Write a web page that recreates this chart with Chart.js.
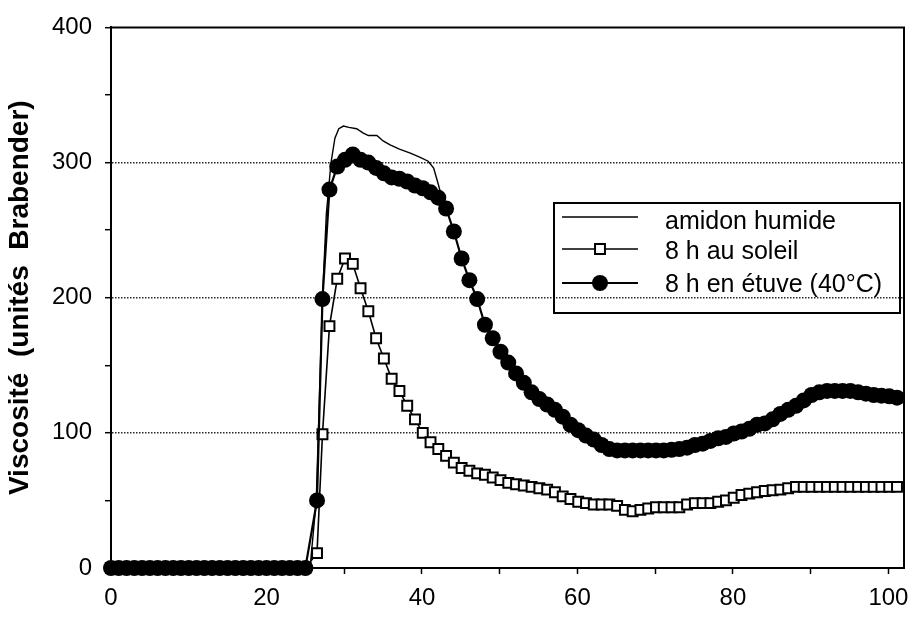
<!DOCTYPE html>
<html>
<head>
<meta charset="utf-8">
<script src="https://cdn.jsdelivr.net/npm/chart.js@4.4.1/dist/chart.umd.min.js"></script>
<style>
  html, body { margin: 0; padding: 0; background: #fff; }
  #wrap { width: 920px; height: 617px; position: relative; }
</style>
</head>
<body>
<div id="wrap"><canvas id="c" width="920" height="617"></canvas></div>
<script>
// ---- Data ----
const timeMin = [
  0, 1, 2, 3, 4, 5, 6, 7, 8, 9, 10, 11, 12, 13, 14, 15, 16, 17, 18, 19, 20, 21, 22, 23, 24, 25,
  26.5, 27.2,
  28.1, 29.1, 30.1, 31.1, 32.1, 33.1, 34.1, 35.1, 36.1, 37.1, 38.1, 39.1, 40.1, 41.1, 42.1, 43.1,
  44.1, 45.1, 46.1, 47.1, 48.1, 49.1, 50.1, 51.1, 52.1, 53.1, 54.1, 55.1, 56.1, 57.1, 58.1, 59.1,
  60.1, 61.1, 62.1, 63.1, 64.1, 65.1, 66.1, 67.1, 68.1, 69.1, 70.1, 71.1, 72.1, 73.1, 74.1, 75.1,
  76.1, 77.1, 78.1, 79.1, 80.1, 81.1, 82.1, 83.1, 84.1, 85.1, 86.1, 87.1, 88.1, 89.1, 90.1, 91.1,
  92.1, 93.1, 94.1, 95.1, 96.1, 97.1, 98.1, 99.1, 100.1, 101.1
];

const etuve40C = [
  0, 0, 0, 0, 0, 0, 0, 0, 0, 0, 0, 0, 0, 0, 0, 0, 0, 0, 0, 0, 0, 0, 0, 0, 0, 0,
  50, 199,
  280, 297, 302, 306, 302, 300, 296, 292, 289, 288, 286, 283, 281, 278, 274, 266,
  249, 229, 213, 199, 180, 170, 160, 152, 144, 137, 130, 125, 121, 117, 112, 106,
  102, 98, 95, 91, 88, 87, 87, 87, 87, 87, 87, 87, 87.5, 88, 89, 91,
  92, 94, 96, 97, 99.5, 101, 103, 106, 107, 110, 114, 117, 120, 124, 128, 130,
  131, 131, 131, 131, 130, 129, 128, 127.5, 127, 126
];

const soleil8h = [
  0, 0, 0, 0, 0, 0, 0, 0, 0, 0, 0, 0, 0, 0, 0, 0, 0, 0, 0, 0, 0, 0, 0, 0, 0, 0,
  11, 99,
  179, 214, 229, 225, 207, 190, 170, 155, 140, 131, 120, 110, 100, 93, 88, 83,
  78, 74, 72, 70, 69, 67, 65, 63, 62, 61, 60, 59, 58, 56, 53, 51,
  49, 48, 47, 47, 47, 46, 43, 42, 43, 44, 45, 45, 45, 45, 47, 48,
  48, 48, 49, 50, 52, 54, 55, 56, 57, 57.5, 58, 59, 60, 60, 60, 60,
  60, 60, 60, 60, 60, 60, 60, 60, 60, 60
];

const amidonTime = [0, 25.6, 26.4, 27.2, 27.7, 28.3, 28.8, 29.3, 29.9, 30.6, 31.6, 32.4, 33.1, 34.2, 35.0, 35.9, 37.1, 38.5, 39.7, 40.8, 41.5, 42.0, 42.7, 43.1];
const amidonHumide = [0, 0, 50, 200, 262, 300, 318, 325, 327, 326, 325, 322, 320, 320, 316, 313, 310, 307, 304, 301, 296, 286, 271, 266];

const seriesLabels = ['amidon humide', '8 h au soleil', '8 h en étuve (40°C)'];
const yAxisTitle = 'Viscosité  (unités  Brabender)';
const yGridValues = [100, 200, 300];

// ---- Build ----
const toPoints = (xs, ys) => xs.map((x, i) => ({ x: x, y: ys[i] }));
const FONT = '"Liberation Sans", Arial, Helvetica, sans-serif';

const frameAndLegend = {
  id: 'frameAndLegend',
  afterDatasetsDraw(chart) {
    const ctx = chart.ctx;
    const a = chart.chartArea;
    ctx.save();
    // top and right frame lines
    ctx.strokeStyle = '#000';
    ctx.lineWidth = 2;
    ctx.beginPath();
    ctx.moveTo(a.left, a.top);
    ctx.lineTo(a.right, a.top);
    ctx.lineTo(a.right, a.bottom);
    ctx.stroke();

    // legend box
    const bx = 554, by = 203, bw = 346, bh = 110;
    ctx.lineWidth = 2;
    ctx.strokeRect(bx, by, bw, bh);
    const rowsLine = [217, 249, 283];
    const rowsText = [222, 252, 285];
    [0, 1, 2].forEach((i) => {
      const ds = chart.data.datasets[i];
      const ly = rowsLine[i];
      ctx.strokeStyle = '#000';
      ctx.lineWidth = Math.max(ds.borderWidth, 1.6);
      ctx.beginPath();
      ctx.moveTo(562, ly);
      ctx.lineTo(638, ly);
      ctx.stroke();
      if (ds.pointRadius > 0) {
        ctx.fillStyle = ds.pointBackgroundColor;
        ctx.strokeStyle = ds.pointBorderColor;
        ctx.lineWidth = ds.pointBorderWidth;
        ctx.beginPath();
        if (ds.pointStyle === 'rect') {
          const s = ds.pointRadius * Math.SQRT1_2;
          ctx.rect(600 - s, ly - s, 2 * s, 2 * s);
        } else {
          ctx.arc(600, ly, ds.pointRadius, 0, Math.PI * 2);
        }
        ctx.fill();
        if (ds.pointBorderWidth > 0) ctx.stroke();
      }
      ctx.fillStyle = '#000';
      ctx.font = '25px ' + FONT;
      ctx.textAlign = 'left';
      ctx.textBaseline = 'middle';
      ctx.fillText(ds.label, 665, rowsText[i]);
    });
    ctx.restore();
  }
};

new Chart(document.getElementById('c'), {
  type: 'line',
  data: {
    datasets: [
      {
        label: seriesLabels[0],
        data: toPoints(amidonTime, amidonHumide),
        borderColor: '#000',
        borderWidth: 1.4,
        pointRadius: 0,
        tension: 0,
        order: 3,
        clip: false
      },
      {
        label: seriesLabels[1],
        data: toPoints(timeMin, soleil8h),
        borderColor: '#000',
        borderWidth: 1.6,
        pointStyle: 'rect',
        pointRadius: 7,
        pointBackgroundColor: '#fff',
        pointBorderColor: '#000',
        pointBorderWidth: 2,
        tension: 0,
        order: 2,
        clip: false
      },
      {
        label: seriesLabels[2],
        data: toPoints(timeMin, etuve40C),
        borderColor: '#000',
        borderWidth: 2.2,
        pointStyle: 'circle',
        pointRadius: 8,
        pointBackgroundColor: '#000',
        pointBorderColor: '#000',
        pointBorderWidth: 0,
        tension: 0,
        order: 1,
        clip: false
      }
    ]
  },
  options: {
    responsive: false,
    animation: false,
    events: [],
    layout: { padding: { top: 15, right: 16, left: 0, bottom: 0 } },
    plugins: { legend: { display: false }, tooltip: { enabled: false } },
    scales: {
      x: {
        type: 'linear',
        min: 0,
        max: 102,
        afterFit: (s) => { s.height = 49; },
        ticks: {
          stepSize: 10,
          includeBounds: false,
          autoSkip: false,
          maxRotation: 0,
          padding: 10,
          color: '#000',
          font: { family: FONT, size: 24 },
          callback: (v) => (v % 20 === 0 ? String(v) : '')
        },
        grid: { drawOnChartArea: false, tickLength: 6, tickWidth: 1.5, tickColor: '#000' },
        border: { display: true, color: '#000', width: 2 }
      },
      y: {
        type: 'linear',
        min: 0,
        max: 400,
        afterFit: (s) => { s.width = 111; },
        ticks: {
          stepSize: 50,
          autoSkip: false,
          padding: 13,
          color: '#000',
          font: { family: FONT, size: 24 },
          callback: (v) => (v % 100 === 0 ? String(v) : '')
        },
        grid: {
          color: (c) => (c.tick && yGridValues.includes(c.tick.value) ? '#2a2a2a' : 'rgba(0,0,0,0)'),
          lineWidth: 1.4,
          tickLength: 6,
          tickWidth: 1.5,
          tickColor: '#000'
        },
        border: { display: true, color: '#000', width: 2, dash: [1.5, 1.5] },
        title: {
          display: true,
          text: yAxisTitle,
          color: '#000',
          padding: { top: 3, bottom: 0 },
          font: { family: FONT, size: 28, weight: 'bold' }
        }
      }
    }
  },
  plugins: [frameAndLegend]
});
</script>
</body>
</html>
